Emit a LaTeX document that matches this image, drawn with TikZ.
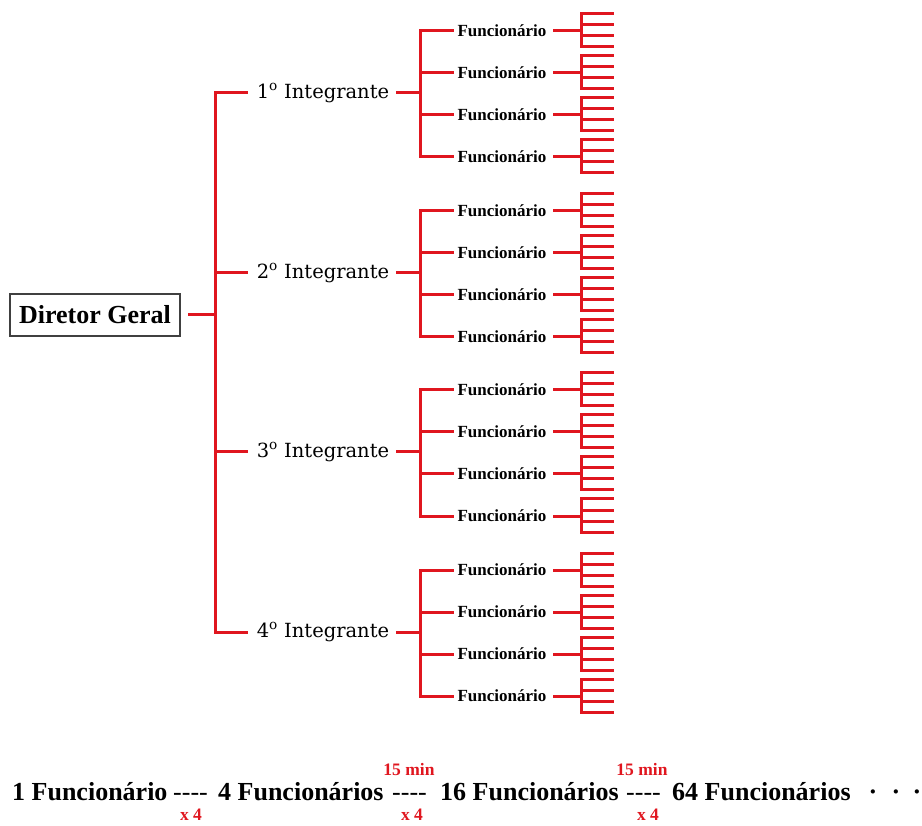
\documentclass[tikz,border=0pt]{standalone}
\usepackage{fontspec}
\setmainfont{Liberation Serif}
\newfontfamily\intfont{DejaVu Serif}
\usetikzlibrary{positioning,calc}
\definecolor{linkRed}{HTML}{E0161F}

\begin{document}
\begin{tikzpicture}[x=1pt,y=-1pt,
  link/.style={linkRed,line width=3pt,line cap=rect},
  headbox/.style={draw=black!75,line width=1.3pt,inner xsep=9pt,minimum height=42pt,font=\fontsize{26}{30}\selectfont\bfseries},
  intlabel/.style={inner sep=0pt,font=\fontsize{19.5}{22}\selectfont\intfont},
  funlabel/.style={inner sep=0pt,font=\fontsize{17}{20}\selectfont\bfseries},
  rowtext/.style={anchor=base west,inner sep=0pt,font=\fontsize{26}{30}\selectfont\bfseries},
  dashtext/.style={anchor=base west,inner sep=0pt,font=\fontsize{26}{30}\selectfont},
  redtext/.style={anchor=base,inner sep=0pt,text=linkRed,font=\fontsize{17.5}{20}\selectfont\bfseries}]
  \useasboundingbox (0,0) rectangle (922,826);
  \node[headbox] (dg) at (95,315) {Diretor Geral};
  \foreach \i/\yy in {1/93,2/273,3/452,4/632}{
    \coordinate (t\i) at (215,\yy);
    \coordinate (s\i) at (420,\yy);
    \node[intlabel] (int\i) at (323,\yy) {\i\textsuperscript{o} Integrante};
    \draw[link,shorten >=10pt] (t\i) -- (int\i.west);
    \draw[link,shorten <=8pt] (int\i.east) -- (s\i);
    \foreach \j/\dy in {1/-62,2/-20,3/22,4/64}{
      \pgfmathsetmacro{\fy}{\yy+\dy}
      \coordinate (b\i\j) at (420,\fy);
      \coordinate (r\i\j) at (581,\fy);
      \node[funlabel] (f\i\j) at (502,\fy) {Funcionário};
      \draw[link,shorten >=5pt] (b\i\j) -- (f\i\j.west);
      \draw[link,shorten <=8pt] (f\i\j.east) -- (r\i\j);
      \draw[link] (r\i\j) ++(0,-17) -- ++(0,33);
      \foreach \k in {-17,-6,5,16}
        \draw[link] (r\i\j) ++(0,\k) -- ++(31,0);
    }
    \draw[link] (b\i1) -- (b\i4);
  }
  \draw[link] (t1) -- (t4);
  \draw[link,shorten <=9pt] (dg.east) -- (dg.east -| t1);
  \node[rowtext] (n1) at (12,800) {1 Funcionário};
  \node[dashtext] (d1) at (173,800) {-{}-{}-{}-};
  \node[rowtext] (n2) at (218,800) {4 Funcionários};
  \node[dashtext] (d2) at (392,800) {-{}-{}-{}-};
  \node[rowtext] (n3) at (440,800) {16 Funcionários};
  \node[dashtext] (d3) at (626,800) {-{}-{}-{}-};
  \node[rowtext] (n4) at (672,800) {64 Funcionários};
  \foreach \d/\dx in {1/873,2/896,3/917}
    \node[rowtext,anchor=base] (dot\d) at (\dx,800) {·};
  \node[redtext] (x1) at (191,820) {x 4};
  \node[redtext] (x2) at (412,820) {x 4};
  \node[redtext] (x3) at (648,820) {x 4};
  \node[redtext] (m1) at (409,775) {15 min};
  \node[redtext] (m2) at (642,775) {15 min};
\end{tikzpicture}
\end{document}
